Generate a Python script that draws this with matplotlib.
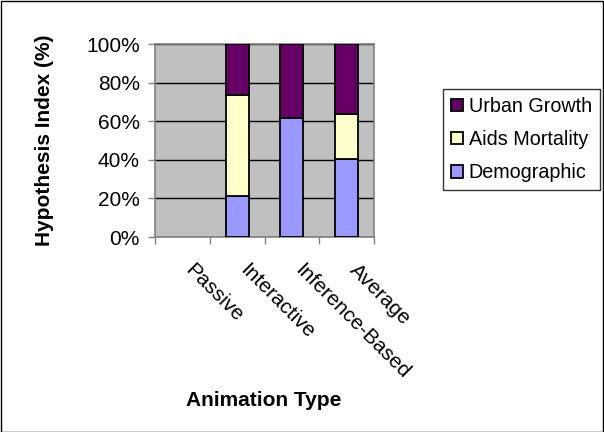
import numpy as np
import matplotlib
matplotlib.use("Agg")
from matplotlib import pyplot as plt
from matplotlib.patches import Rectangle
import matplotlib.ticker as mticker

plt.rcParams['font.family'] = ['Liberation Sans', 'DejaVu Sans']

# 动画类型与三类假设的占比（百分比堆叠）
categories = ['Passive', 'Interactive', 'Inference-Based', 'Average']
demographic = [0, 21.4, 61.4, 40.3]
aids_mortality = [0, 52.0, 0, 23.5]
urban_growth = [0, 26.6, 38.6, 36.2]

c_demo = '#9999FF'
c_aids = '#FFFFCC'
c_urban = '#660066'

fig = plt.figure(figsize=(6.04, 4.32), dpi=100)
fig.patch.set_facecolor('white')
ax = fig.add_axes([155 / 604, 1 - 237 / 432, 219 / 604, 193 / 432])
ax.set_facecolor('#C0C0C0')

x = np.arange(len(categories)) + 0.5
w = 0.42
demo = np.array(demographic, dtype=float)
aids = np.array(aids_mortality, dtype=float)
urban = np.array(urban_growth, dtype=float)


def nz(v):
    # 0 值不画（否则会留下一条边线）
    return np.where(v > 0, v, np.nan)


kw = dict(edgecolor='black', linewidth=1.3, zorder=3)
b1 = ax.bar(x, nz(demo), w, color=c_demo, **kw)
b2 = ax.bar(x, nz(aids), w, bottom=demo, color=c_aids, **kw)
b3 = ax.bar(x, nz(urban), w, bottom=demo + aids, color=c_urban, **kw)

ax.set_xlim(0, 4)
ax.set_ylim(0, 100)
ax.yaxis.set_major_locator(mticker.MultipleLocator(20))
ax.yaxis.set_major_formatter(mticker.FuncFormatter(lambda v, p: '%d%%' % v))
ax.grid(axis='y', color='black', linewidth=1.0, zorder=1)
ax.set_axisbelow(True)

ax.set_xticks(np.arange(5))
ax.set_xticklabels([])
ax.tick_params(axis='both', direction='out', length=5, width=1, color='#808080', labelsize=15)
ax.tick_params(axis='y', pad=6)
for s in ax.spines.values():
    s.set_color('#808080')
    s.set_linewidth(1.2)

# 斜排的类别标签
for xi, name in zip(x, categories):
    ax.annotate(name, xy=(xi, 0), xycoords=('data', 'axes fraction'),
                xytext=(9, -17), textcoords='offset points',
                rotation=-45, rotation_mode='anchor', ha='left', va='top',
                fontsize=15)

fig.text(45 / 604, 1 - 140 / 432, 'Hypothesis Index (%)', fontsize=15,
         fontweight='bold', rotation=90, ha='center', va='center')
fig.text(263.5 / 604, 1 - 401 / 432, 'Animation Type', fontsize=15,
         fontweight='bold', ha='center', va='center')

leg = fig.legend([b3, b2, b1], ['Urban Growth', 'Aids Mortality', 'Demographic'],
                 loc='upper left', bbox_to_anchor=(443 / 604, 1 - 89 / 432),
                 fontsize=14.2, frameon=True, fancybox=False, borderpad=0.4,
                 handlelength=0.6, handleheight=0.6, handletextpad=0.3,
                 labelspacing=0.72, borderaxespad=0)
leg.get_frame().set_edgecolor('black')
leg.get_frame().set_linewidth(1)

# 图外框
fig.patches.append(Rectangle((0.001, 0.001), 0.997, 0.997, transform=fig.transFigure,
                             fill=False, edgecolor='black', linewidth=1))

fig.savefig('out.png', dpi=100)
